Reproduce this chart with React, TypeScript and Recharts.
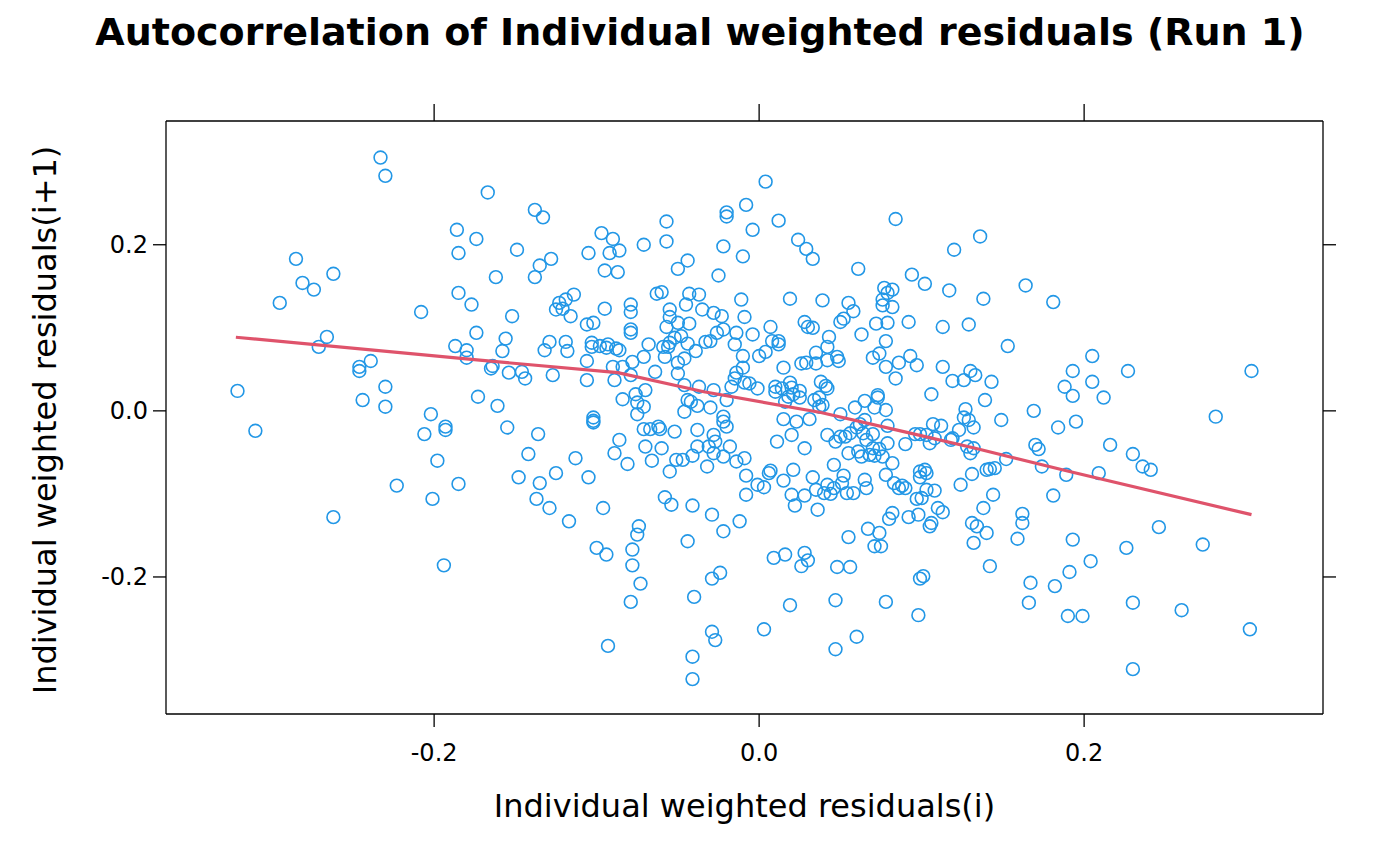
import React from 'react';
import { ScatterChart, Scatter, XAxis, YAxis } from 'recharts';

const FONT = '"DejaVu Sans", Verdana, sans-serif';
const TITLE = 'Autocorrelation of Individual weighted residuals (Run 1)';
const X_LABEL = 'Individual weighted residuals(i)';
const Y_LABEL = 'Individual weighted residuals(i+1)';

const xTicks = [-0.2, 0.0, 0.2];
const yTicks = [-0.2, 0.0, 0.2];
const xDomain: [number, number] = [-0.365, 0.347];
const yDomain: [number, number] = [-0.365, 0.349];

// [residual(i), residual(i+1)]
const residualPairs: [number, number][] = [
  [-0.233,0.305],[-0.230,0.283],[-0.186,0.218],[-0.174,0.207],[-0.185,0.190],[-0.285,0.183],[-0.262,0.165],[-0.281,0.154],[-0.274,0.146],[-0.295,0.130],
  [-0.208,0.119],[-0.185,0.142],[-0.177,0.128],[-0.174,0.094],[-0.266,0.089],[-0.271,0.077],[-0.321,0.024],[-0.310,-0.024],[-0.246,0.053],[-0.246,0.048],
  [-0.239,0.060],[-0.230,0.029],[-0.244,0.013],[-0.230,0.005],[-0.202,-0.004],[-0.206,-0.028],[-0.193,-0.019],[-0.193,-0.023],[-0.198,-0.060],[-0.223,-0.090],
  [-0.185,-0.088],[-0.201,-0.106],[-0.187,0.078],[-0.180,0.073],[-0.180,0.064],[-0.173,0.017],[-0.262,-0.128],[-0.194,-0.186],
  [-0.167,0.263],[-0.138,0.242],[-0.133,0.233],[-0.149,0.194],[-0.162,0.161],[-0.138,0.161],[-0.135,0.175],[-0.128,0.183],[-0.097,0.214],[-0.090,0.207],
  [-0.092,0.190],[-0.086,0.193],[-0.105,0.190],[-0.095,0.169],[-0.087,0.167],[-0.071,0.200],[-0.057,0.228],[-0.057,0.204],[-0.050,0.171],[-0.044,0.181],
  [-0.025,0.163],[-0.022,0.198],[-0.020,0.239],[-0.020,0.234],[-0.152,0.114],[-0.125,0.122],[-0.123,0.130],[-0.119,0.134],[-0.114,0.140],[-0.121,0.123],
  [-0.116,0.114],[-0.095,0.123],[-0.079,0.128],[-0.079,0.119],[-0.063,0.141],[-0.060,0.143],[-0.043,0.141],[-0.037,0.140],[-0.045,0.128],[-0.055,0.122],
  [-0.055,0.113],[-0.035,0.122],[-0.028,0.118],[-0.023,0.114],[-0.106,0.104],[-0.102,0.106],[-0.079,0.098],[-0.057,0.101],[-0.050,0.106],[-0.043,0.105],
  [-0.156,0.087],[-0.158,0.072],[-0.165,0.051],[-0.164,0.054],[-0.154,0.046],[-0.146,0.047],[-0.144,0.039],[-0.161,0.006],[-0.155,-0.020],[-0.136,-0.028],
  [-0.142,-0.052],[-0.148,-0.080],[-0.135,-0.087],[-0.125,-0.075],[-0.137,-0.106],[-0.129,-0.117],[-0.129,0.083],[-0.132,0.073],[-0.119,0.083],[-0.118,0.072],
  [-0.127,0.043],[-0.106,0.060],[-0.106,0.037],[-0.103,0.082],[-0.103,0.077],[-0.098,0.078],[-0.093,0.080],[-0.094,0.076],[-0.088,0.075],[-0.086,0.073],
  [-0.079,0.094],[-0.090,0.053],[-0.084,0.053],[-0.078,0.059],[-0.079,0.043],[-0.089,0.037],[-0.071,0.065],[-0.068,0.080],[-0.064,0.047],[-0.059,0.077],
  [-0.058,0.065],[-0.055,0.082],[-0.056,0.077],[-0.052,0.088],[-0.048,0.090],[-0.044,0.081],[-0.050,0.058],[-0.046,0.063],[-0.050,0.045],[-0.039,0.072],
  [-0.033,0.083],[-0.030,0.084],[-0.026,0.094],[-0.084,0.014],[-0.076,0.020],[-0.070,0.025],[-0.075,0.010],[-0.071,0.005],[-0.075,-0.004],[-0.102,-0.008],
  [-0.102,-0.012],[-0.102,-0.014],[-0.046,0.031],[-0.037,0.029],[-0.028,0.025],[-0.044,0.013],[-0.042,0.011],[-0.038,0.006],[-0.030,0.004],[-0.046,-0.001],
  [-0.071,-0.022],[-0.067,-0.022],[-0.062,-0.019],[-0.061,-0.022],[-0.052,-0.025],[-0.038,-0.023],[-0.086,-0.035],[-0.089,-0.051],[-0.081,-0.064],[-0.070,-0.043],
  [-0.060,-0.045],[-0.066,-0.060],[-0.051,-0.059],[-0.047,-0.059],[-0.041,-0.054],[-0.038,-0.043],[-0.031,-0.043],[-0.028,-0.029],[-0.027,-0.037],[-0.028,-0.051],
  [-0.032,-0.067],[-0.055,-0.073],[-0.113,-0.057],[-0.105,-0.080],[-0.058,-0.104],[-0.054,-0.113],[-0.096,-0.117],[-0.041,-0.114],
  [-0.117,-0.133],[-0.100,-0.165],[-0.094,-0.173],[-0.074,-0.139],[-0.075,-0.149],[-0.078,-0.167],[-0.078,-0.186],[-0.073,-0.208],[-0.079,-0.230],[-0.093,-0.283],
  [-0.029,-0.125],[-0.022,-0.145],[-0.044,-0.157],[-0.029,-0.202],[-0.024,-0.195],[-0.040,-0.224],[-0.029,-0.266],[-0.027,-0.276],[-0.041,-0.296],[-0.041,-0.323],
  [0.004,0.276],[-0.008,0.248],[0.012,0.229],[-0.004,0.218],[0.024,0.206],[0.029,0.195],[0.033,0.183],[-0.010,0.186],[0.061,0.171],[0.084,0.231],
  [0.094,0.164],[0.102,0.153],[0.120,0.194],[0.136,0.210],[0.117,0.145],[0.138,0.135],[-0.011,0.134],[0.019,0.135],[0.039,0.133],[0.055,0.130],
  [0.058,0.120],[0.077,0.148],[0.079,0.142],[0.082,0.146],[0.076,0.134],[0.076,0.127],[0.082,0.125],[-0.009,0.113],[0.028,0.107],[0.050,0.107],
  [0.052,0.111],[-0.022,0.098],[-0.014,0.094],[-0.004,0.092],[0.007,0.101],[0.030,0.101],[0.033,0.100],[0.063,0.092],[0.072,0.105],[0.079,0.106],
  [0.092,0.107],[0.113,0.101],[0.129,0.104],
  [-0.015,0.080],[-0.010,0.066],[0.000,0.066],[0.004,0.071],[0.008,0.084],[0.012,0.080],[0.012,0.084],[0.043,0.089],[0.042,0.077],[0.035,0.070],
  [0.026,0.057],[0.029,0.058],[0.035,0.057],[0.042,0.061],[0.048,0.065],[0.049,0.060],[0.015,0.052],[-0.010,0.052],[-0.014,0.046],[-0.015,0.039],
  [-0.009,0.034],[-0.006,0.033],[-0.001,0.027],[-0.017,0.029],[-0.020,0.013],[0.010,0.029],[0.010,0.023],[0.014,0.027],[0.019,0.034],[0.020,0.028],
  [0.021,0.020],[0.025,0.024],[0.025,0.016],[0.018,0.017],[0.016,0.011],[0.038,0.035],[0.041,0.030],[0.042,0.027],[0.034,0.013],[0.037,0.016],
  [0.039,0.007],[0.037,0.005],[0.015,-0.010],[0.023,-0.013],[0.031,-0.010],[0.011,-0.037],[0.020,-0.029],[0.028,-0.045],[-0.022,-0.007],[-0.022,-0.013],
  [-0.020,-0.019],[-0.018,-0.043],[-0.022,-0.055],[-0.014,-0.061],[-0.009,-0.057],[-0.008,-0.078],[-0.008,-0.101],[-0.001,-0.089],[0.003,-0.092],[0.006,-0.075],
  [0.007,-0.072],[0.015,-0.084],[0.021,-0.071],[0.020,-0.101],[0.028,-0.102],[0.033,-0.080],[0.046,-0.065],[0.052,-0.078],[0.051,-0.087],[0.042,-0.089],
  [0.046,-0.093],[0.040,-0.099],[0.044,-0.100],[0.054,-0.099],[0.058,-0.099],[0.035,-0.095],[0.065,-0.083],[0.066,-0.093],[0.078,-0.077],[0.083,-0.087],
  [0.086,-0.093],[0.090,-0.093],[0.088,-0.090],[0.099,-0.073],[0.102,-0.071],[0.103,-0.075],[0.099,-0.080],[0.103,-0.095],[0.108,-0.096],[0.097,-0.106],
  [0.100,-0.105],[0.124,-0.089],[0.131,-0.076],[0.050,-0.004],[0.059,0.004],[0.065,0.012],[0.073,0.019],[0.073,0.016],[0.071,0.004],[0.078,0.001],
  [0.065,-0.011],[0.062,-0.016],[0.056,-0.027],[0.053,-0.031],[0.050,-0.031],[0.060,-0.020],[0.064,-0.027],[0.070,-0.028],[0.042,-0.029],[0.047,-0.037],
  [0.055,-0.051],[0.061,-0.049],[0.063,-0.055],[0.068,-0.053],[0.070,-0.045],[0.074,-0.046],[0.071,-0.054],[0.076,-0.055],[0.079,-0.039],[0.079,-0.018],
  [0.082,-0.063],[0.090,-0.040],[0.096,-0.028],[0.099,-0.028],[0.103,-0.029],[0.107,-0.016],[0.112,-0.018],[0.108,-0.033],[0.105,-0.039],[0.118,-0.035],
  [0.119,-0.033],[0.123,-0.023],[0.127,0.002],[0.126,-0.008],[0.132,-0.020],[0.129,-0.011],[0.128,-0.043],[0.130,-0.051],[0.132,-0.045],[0.078,0.084],
  [0.070,0.064],[0.074,0.069],[0.078,0.053],[0.084,0.039],[0.086,0.058],[0.093,0.066],[0.097,0.055],[0.113,0.053],[0.119,0.036],[0.126,0.037],
  [0.130,0.048],[0.133,0.043],[0.106,0.020],[0.066,-0.035],
  [-0.012,-0.133],[0.022,-0.114],[0.036,-0.119],[0.009,-0.177],[0.016,-0.173],[0.028,-0.171],[0.030,-0.180],[0.026,-0.187],[0.048,-0.188],[0.056,-0.188],
  [0.055,-0.152],[0.067,-0.142],[0.074,-0.147],[0.071,-0.163],[0.075,-0.163],[0.080,-0.130],[0.082,-0.123],[0.092,-0.128],[0.098,-0.125],[0.106,-0.135],
  [0.105,-0.139],[0.110,-0.117],[0.113,-0.122],[0.131,-0.135],[0.134,-0.139],[0.132,-0.159],[0.138,-0.117],[0.101,-0.199],[0.099,-0.202],[0.019,-0.234],
  [0.047,-0.228],[0.078,-0.230],[0.098,-0.246],[0.003,-0.263],[0.060,-0.272],[0.047,-0.287],
  [0.164,0.151],[0.181,0.131],[0.153,0.078],[0.205,0.066],[0.193,0.048],[0.227,0.048],[0.303,0.048],[0.143,0.035],[0.188,0.029],[0.193,0.018],
  [0.205,0.035],[0.212,0.016],[0.139,0.013],[0.169,0.000],[0.149,-0.011],[0.195,-0.013],[0.184,-0.020],[0.281,-0.007],[0.170,-0.041],[0.172,-0.046],
  [0.216,-0.041],[0.230,-0.052],[0.236,-0.067],[0.241,-0.071],[0.152,-0.058],[0.140,-0.071],[0.142,-0.070],[0.145,-0.069],[0.174,-0.067],[0.189,-0.077],
  [0.209,-0.075],[0.144,-0.101],[0.181,-0.102],[0.162,-0.124],[0.162,-0.135],[0.140,-0.147],[0.159,-0.154],[0.193,-0.155],[0.246,-0.140],[0.226,-0.165],
  [0.273,-0.161],[0.204,-0.181],[0.142,-0.187],[0.191,-0.194],[0.167,-0.207],[0.182,-0.211],[0.166,-0.231],[0.230,-0.231],[0.260,-0.240],[0.190,-0.247],
  [0.199,-0.247],[0.302,-0.263],[0.230,-0.311],
];

// loess smooth
const loessX = [-0.322, -0.172, -0.087, -0.034, 0.038, 0.089, 0.133, 0.191, 0.303];
const loessY = [0.0886, 0.061, 0.046, 0.023, -0.002, -0.025, -0.045, -0.073, -0.125];

const POINT_COLOR = '#2297E6';
const LINE_COLOR = '#DF536B';
const axisStyle = { stroke: '#000', strokeWidth: 1.3 };
const tickStyle = { fill: '#000', fontSize: 24, fontFamily: FONT };
const fmt = (v: number) => v.toFixed(1);
const EmptyTick = () => <g />;

const CircleShape = (props: any) => {
  const { cx, cy } = props;
  if (cx == null || cy == null) return <g />;
  return <circle cx={cx} cy={cy} r={6.4} fill="none" stroke={POINT_COLOR} strokeWidth={1.6} />;
};

export default function App() {
  const points = residualPairs.map(([x, y]) => ({ x, y }));
  const loess = loessX.map((x, i) => ({ x, y: loessY[i] }));
  const W = 1400;
  const H = 866;
  return (
    <div style={{ position: 'absolute', left: 0, top: 0, width: W, height: H, background: '#fff' }}>
      <ScatterChart width={W} height={H} margin={{ top: 91, right: 47, bottom: 102, left: 96 }}>
        <XAxis xAxisId="b" type="number" dataKey="x" orientation="bottom" domain={xDomain} ticks={xTicks}
          allowDataOverflow height={50} tickSize={13} tickMargin={17} tickFormatter={fmt}
          axisLine={axisStyle} tickLine={axisStyle} tick={tickStyle} />
        <XAxis xAxisId="t" type="number" dataKey="x" orientation="top" domain={xDomain} ticks={xTicks}
          allowDataOverflow height={30} tickSize={17} axisLine={axisStyle} tickLine={axisStyle} tick={EmptyTick} />
        <YAxis yAxisId="l" type="number" dataKey="y" orientation="left" domain={yDomain} ticks={yTicks}
          allowDataOverflow width={70} tickSize={13} tickMargin={5} tickFormatter={fmt}
          axisLine={axisStyle} tickLine={axisStyle} tick={tickStyle} />
        <YAxis yAxisId="r" type="number" dataKey="y" orientation="right" domain={yDomain} ticks={yTicks}
          allowDataOverflow width={30} tickSize={13} axisLine={axisStyle} tickLine={axisStyle} tick={EmptyTick} />
        <Scatter xAxisId="b" yAxisId="l" data={points} shape={CircleShape} isAnimationActive={false} />
        <Scatter xAxisId="b" yAxisId="l" data={loess} shape={EmptyTick} isAnimationActive={false}
          line={{ stroke: LINE_COLOR, strokeWidth: 3.2 }} lineType="joint" />
      </ScatterChart>
      <svg width={W} height={H} style={{ position: 'absolute', left: 0, top: 0, pointerEvents: 'none' }}>
        <text x={700} y={32} textAnchor="middle" dominantBaseline="central" fontFamily={FONT} fontWeight="bold" fontSize={38} fill="#000">{TITLE}</text>
        <text x={744.5} y={806} textAnchor="middle" dominantBaseline="central" fontFamily={FONT} fontSize={32} fill="#000">{X_LABEL}</text>
        <text x={45} y={420} textAnchor="middle" dominantBaseline="central" fontFamily={FONT} fontSize={32} fill="#000" transform="rotate(-90 45 420)">{Y_LABEL}</text>
      </svg>
    </div>
  );
}
